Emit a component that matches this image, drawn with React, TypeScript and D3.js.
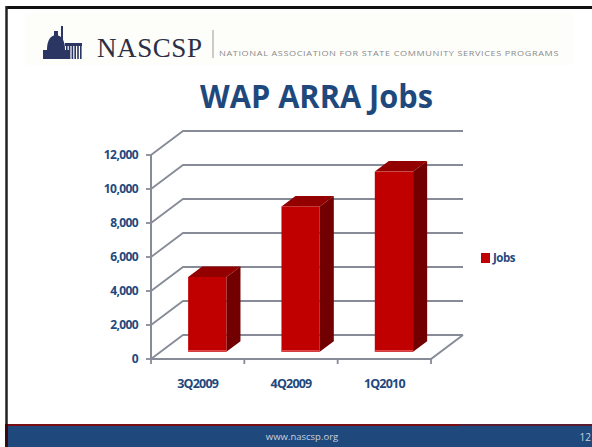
import { useMemo } from 'react';
import * as d3 from 'd3';

const categories = ['3Q2009', '4Q2009', '1Q2010'];
const jobs = [4400, 8550, 10600];
const yTicks = [0, 2000, 4000, 6000, 8000, 10000, 12000];
const seriesName = 'Jobs';

const BLUE = '#1F497D';
const GRID = '#868b97';
// 3D depth offset of the back wall
const DX = 32;
const DY = -24;

export default function App() {
  const x = useMemo(() => d3.scaleBand<string>().domain(categories).range([151, 431]), []);
  const y = useMemo(() => d3.scaleLinear().domain([0, 12000]).range([359, 155]), []);
  const fmt = d3.format(',');

  const bw = x.bandwidth() * 0.41;
  const f1 = 0.3;
  const f2 = 0.74;

  const poly = (pts: [number, number][]) => 'M' + pts.map((p) => p.join(',')).join('L') + 'Z';

  return (
    <svg
      width={592}
      height={447}
      style={{ position: 'fixed', left: 0, top: 0, background: '#fff' }}
      fontFamily="'Open Sans', sans-serif"
    >
      {/* header */}
      <rect x={25} y={13} width={548} height={52} fill="#fdfdfa" />
      <line x1={6} y1={7.5} x2={592} y2={7.5} stroke="#111" strokeWidth={3} />
      <line x1={6.5} y1={6} x2={6.5} y2={447} stroke="#222" strokeWidth={2.5} />

      {/* logo */}
      <g fill="#2b3663">
        <rect x={61} y={26} width={2} height={20} />
        <path d="M47,50 Q47,36 56,35 Q65,36 65,50 Z" />
        <rect x={54} y={31} width={4} height={5} />
        <rect x={43} y={50} width={26} height={9} />
        <rect x={65} y={43} width={17} height={3} />
        {d3.range(6).map((i) => (
          <rect key={i} x={66 + i * 2.8} y={46} width={1.6} height={13} />
        ))}
      </g>
      <text
        x={97}
        y={57}
        fontFamily="'Liberation Serif', 'DejaVu Serif', serif"
        fontSize={27}
        fill="#2a2f45"
        textLength={105}
        lengthAdjust="spacing"
      >
        NASCSP
      </text>
      <line x1={213} y1={30} x2={213} y2={58} stroke="#999" strokeWidth={1} />
      <text
        x={219}
        y={56}
        fontSize={7.2}
        fill="#8a8a8a"
        textLength={340}
        lengthAdjust="spacingAndGlyphs"
        letterSpacing={0.5}
      >
        NATIONAL ASSOCIATION FOR STATE COMMUNITY SERVICES PROGRAMS
      </text>

      {/* title */}
      <text
        x={200}
        y={108}
        fontSize={32}
        fontWeight={700}
        fill={BLUE}
        textLength={233}
        lengthAdjust="spacingAndGlyphs"
      >
        WAP ARRA Jobs
      </text>

      {/* gridlines: front diagonal + back wall */}
      {yTicks.map((t) => (
        <g key={t}>
          <path
            d={`M${151},${y(t)}L${151 + DX},${y(t) + DY}L${431 + DX},${y(t) + DY}`}
            fill="none"
            stroke={GRID}
            strokeWidth={1.8}
          />
          <line x1={146} y1={y(t)} x2={151} y2={y(t)} stroke={GRID} strokeWidth={1.8} />
          <text
            x={138}
            y={y(t)}
            dy="0.35em"
            textAnchor="end"
            fontSize={12}
            fontWeight={700}
            fill={BLUE}
            letterSpacing={-0.6}
          >
            {fmt(t)}
          </text>
        </g>
      ))}

      {/* floor */}
      <path
        d={`M${151},${y(0)}L${431},${y(0)}L${431 + DX},${y(0) + DY}`}
        fill="none"
        stroke={GRID}
        strokeWidth={2}
      />
      <line x1={151} y1={y(0)} x2={151} y2={y(12000)} stroke={GRID} strokeWidth={2} />
      {[...categories.map((c) => x(c)!), 431].map((v, i) => (
        <line key={i} x1={v} y1={y(0)} x2={v} y2={y(0) + 5} stroke={GRID} strokeWidth={1.8} />
      ))}

      {/* bars */}
      {categories.map((c, i) => {
        const x0 = x(c)! + (x.bandwidth() - bw) / 2 + DX * f1;
        const x1 = x0 + bw;
        const yb = y(0) + DY * f1;
        const yt = y(jobs[i]) + DY * f1;
        const ddx = DX * (f2 - f1);
        const ddy = DY * (f2 - f1);
        return (
          <g key={c}>
            <path d={poly([[x1, yt], [x1 + ddx, yt + ddy], [x1 + ddx, yb + ddy], [x1, yb]])} fill="#720000" />
            <path d={poly([[x0, yt], [x0 + ddx, yt + ddy], [x1 + ddx, yt + ddy], [x1, yt]])} fill="#930000" />
            <rect x={x0} y={yt} width={bw} height={yb - yt} fill="#C00000" />
            <line x1={x0} y1={yb - 1} x2={x1} y2={yb - 1} stroke="#dc4a4a" strokeWidth={1.5} />
          </g>
        );
      })}

      {/* x labels */}
      {categories.map((c) => (
        <text
          key={c}
          x={x(c)! + x.bandwidth() / 2}
          y={388}
          textAnchor="middle"
          fontSize={12.5}
          fontWeight={700}
          fill={BLUE}
          letterSpacing={-0.8}
        >
          {c}
        </text>
      ))}

      {/* legend */}
      <rect x={481} y={253} width={9} height={10} fill="#C00000" />
      <text x={493} y={262} fontSize={11.5} fontWeight={700} fill={BLUE} letterSpacing={-0.5}>
        {seriesName}
      </text>

      {/* footer */}
      <rect x={6} y={424} width={586} height={23} fill="#1F497D" />
      <line x1={6} y1={425} x2={460} y2={425} stroke="#7a0c14" strokeWidth={2} />
      <line x1={460} y1={425} x2={592} y2={425} stroke="#5a1a30" strokeWidth={2} />
      <rect x={5} y={424} width={3} height={23} fill="#3a0a0a" />
      <text x={302} y={440} textAnchor="middle" fontSize={9.5} fill="#c9d1de">
        www.nascsp.org
      </text>
      <text x={591} y={441} textAnchor="end" fontSize={10} fill="#c9d1de">
        12
      </text>
    </svg>
  );
}
